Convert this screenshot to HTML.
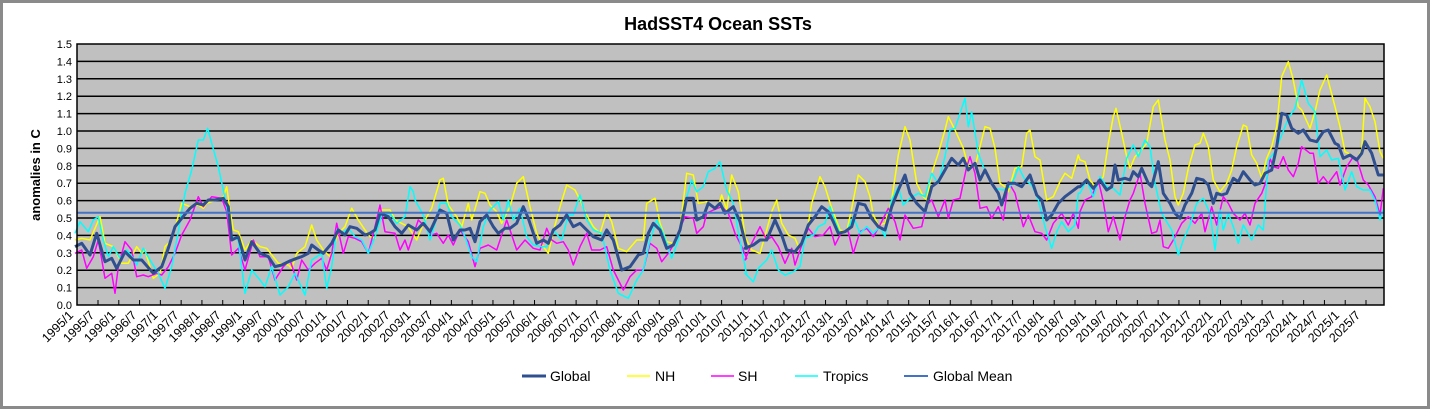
<!DOCTYPE html>
<html><head><meta charset="utf-8"><style>
html,body{margin:0;padding:0;background:#fff;}
svg{display:block;font-family:"Liberation Sans",Arial,sans-serif;}
</style></head><body>
<svg id="s" width="1437" height="414" viewBox="0 0 1437 414" xmlns="http://www.w3.org/2000/svg">
<rect x="0" y="0" width="1437" height="414" fill="#fff"/>
<rect x="1.5" y="1.5" width="1427" height="406" fill="#fff" stroke="#8a8a8a" stroke-width="3"/>
<text x="718" y="30" font-size="18" font-weight="bold" text-anchor="middle" fill="#000">HadSST4 Ocean SSTs</text>
<text transform="translate(40,175) rotate(-90)" font-size="13" font-weight="bold" text-anchor="middle">anomalies in C</text>
<rect x="77" y="44" width="1307" height="261" fill="#c0c0c0"/>
<g id="grid"></g>
<g id="series"></g>
<rect x="77" y="44" width="1307" height="261" fill="none" stroke="#000" stroke-width="1.5"/>
<g id="ylab" font-size="11" text-anchor="end"></g>
<g id="xlab" font-size="12.5"></g>
<g font-size="14">
<line x1="522" y1="376" x2="546" y2="376" stroke="#2f4f8f" stroke-width="3"/><text x="550" y="381">Global</text>
<line x1="627" y1="376" x2="650" y2="376" stroke="#ffff00" stroke-width="1.5"/><text x="655" y="381">NH</text>
<line x1="711" y1="376" x2="734" y2="376" stroke="#ff00ff" stroke-width="1.5"/><text x="738" y="381">SH</text>
<line x1="795" y1="376" x2="818" y2="376" stroke="#00ffff" stroke-width="1.5"/><text x="823" y="381">Tropics</text>
<line x1="904" y1="376" x2="928" y2="376" stroke="#4472c4" stroke-width="2"/><text x="933" y="381">Global Mean</text>
</g>
</svg>
<script>
var NS="http://www.w3.org/2000/svg";
function el(p,t,a,txt){var e=document.createElementNS(NS,t);for(var k in a)e.setAttribute(k,a[k]);if(txt!=null)e.textContent=txt;p.appendChild(e);return e;}
var g=document.getElementById("grid"),yl=document.getElementById("ylab"),xl=document.getElementById("xlab"),sr=document.getElementById("series");
for(var i=0;i<=15;i++){var y=305-i*17.4;if(i>0&&i<15)el(g,"line",{x1:77,x2:1384,y1:y,y2:y,stroke:"#000","stroke-width":1.5});
el(yl,"text",{x:72,y:y+4},(i/10).toFixed(1));}
for(var j=0;j<62;j++){var x=98+j*20.787;el(g,"line",{x1:x,x2:x,y1:300,y2:305,stroke:"#000","stroke-width":1});
var lab=(1995+Math.floor(j/2))+"/"+(j%2?7:1);var lx=74+j*21.1;
el(xl,"text",{x:0,y:0,"text-anchor":"end",transform:"translate("+lx.toFixed(1)+",316) rotate(-45)"},lab);}
var Z={
G:[[75,[[0,620],[20,610],[45,645],[65,580],[90,665],[110,655],[125,685],[150,635],[175,660],[200,660],[235,700],[260,680],[280,625],[300,560],[320,535],[345,505],[365,490],[385,495],[400,480],[420,480],[445,475],[460,500],[470,600],[490,590],[510,660],[530,605],[555,640],[580,650],[600,680],[620,675],[640,665],[665,655],[680,650],[700,640],[710,615],[730,630],[745,640],[770,610],[790,570],[810,585],[825,560],[845,565],[870,585],[885,580],[900,570],[915,520],[940,530],[960,560],[980,580],[1000,555]]],
[410,[[20,570],[40,550],[60,575],[90,510],[110,520],[130,600],[150,570],[165,570],[180,565],[195,605],[210,545],[230,525],[250,560],[265,580],[285,565],[300,565],[320,550],[340,500],[355,535],[380,610],[400,600],[415,610],[430,570],[450,555],[470,525],[490,560],[510,550],[530,570],[550,590],[575,600],[590,570],[610,600],[635,690],[660,680],[685,645],[700,640],[715,580],[730,550],[750,570],[770,625],[790,615],[810,570],[830,475],[850,475],[860,540],[880,530],[895,490],[915,505],[930,490],[945,520],[970,500],[990,545],[1010,625]]],
[745,[[0,625],[25,615],[45,600],[65,600],[90,540],[110,585],[125,630],[150,635],[170,610],[190,555],[210,530],[230,500],[250,515],[265,545],[280,580],[300,575],[320,560],[340,490],[360,495],[380,535],[400,560],[420,570],[440,500],[460,450],[480,405],[495,460],[515,490],[540,515],[560,440],[580,425],[600,390],[620,355],[640,375],[655,355],[670,390],[690,370],[705,420],[720,390],[740,430],[760,460],[770,495],[790,430],[810,430],[830,440],[855,405],[875,465],[890,480],[905,540],[920,525],[940,490],[960,470],[980,455],[1000,440]]],
[1080,[[0,440],[20,420],[40,445],[60,420],[80,450],[95,440],[105,375],[115,420],[135,415],[150,420],[160,395],[175,410],[185,385],[205,430],[215,440],[235,365],[250,460],[270,490],[285,520],[300,535],[315,495],[335,460],[350,415],[370,420],[385,435],[400,490],[410,460],[425,465],[440,460],[460,415],[475,425],[490,395],[510,420],[525,435],[540,430],[555,400],[575,390],[590,320],[605,220],[620,225],[635,265],[655,280],[670,270],[690,300],[710,305],[730,275],[745,270],[765,310],[775,315],[790,355],[810,345],[830,360],[845,340],[855,305],[875,340],[895,405],[910,405]]]],
N:[[75,[[0,600],[20,595],[45,600],[75,530],[90,610],[115,620],[140,670],[160,670],[185,620],[200,640],[210,630],[235,715],[255,700],[270,620],[290,600],[320,490],[345,500],[370,495],[385,505],[395,490],[425,480],[445,470],[455,440],[465,510],[475,570],[490,575],[510,630],[530,600],[555,620],[575,625],[610,670],[640,675],[650,685],[665,640],[690,620],[710,555],[725,600],[745,630],[765,650],[790,580],[810,560],[830,505],[850,540],[870,570],[885,590],[900,595],[915,510],[945,510],[960,540],[1000,560]]],
[410,[[20,600],[45,540],[65,505],[90,420],[100,415],[115,495],[140,530],[155,560],[175,490],[185,540],[210,455],[225,460],[240,495],[260,515],[275,550],[300,500],[320,430],[340,410],[360,500],[380,580],[400,620],[415,640],[430,575],[450,500],[470,435],[495,450],[510,480],[530,525],[550,560],[570,580],[590,515],[605,545],[625,625],[650,635],[680,600],[700,600],[710,490],[735,475],[750,550],[770,605],[790,610],[810,565],[830,400],[850,405],[865,490],[890,485],[905,500],[925,500],[935,465],[950,510],[965,405],[985,455],[1000,550]]],
[745,[[0,590],[20,630],[45,640],[65,570],[80,515],[95,480],[110,550],[130,585],[150,595],[165,630],[185,580],[200,490],[225,410],[240,440],[260,505],[285,570],[305,575],[320,505],[340,405],[360,425],[375,470],[385,525],[400,555],[420,550],[440,480],[460,345],[480,260],[495,300],[515,430],[535,470],[545,480],[560,400],[580,340],[600,270],[610,230],[630,270],[655,325],[670,380],[690,380],[720,260],[735,265],[750,325],[765,430],[780,440],[790,455],[810,385],[830,380],[845,280],[855,270],[870,350],[885,360],[905,480],[925,470],[945,425],[960,400],[980,415],[1000,345]]],
[1080,[[0,360],[15,365],[30,420],[45,440],[70,410],[85,310],[100,230],[108,205],[125,280],[140,350],[150,385],[165,350],[180,335],[200,310],[220,200],[235,180],[255,300],[270,360],[285,470],[295,495],[310,460],[325,385],[345,315],[360,310],[370,280],[385,320],[400,420],[420,455],[440,430],[455,390],[470,320],[490,255],[500,260],[515,345],[530,370],[545,415],[560,355],[575,320],[590,260],[605,110],[625,65],[640,120],[655,200],[665,210],[690,265],[705,215],[720,150],[740,105],[765,200],[780,260],[795,335],[815,345],[830,360],[845,330],[855,175],[870,200],[885,245],[900,335],[910,355]]]],
S:[[75,[[0,640],[20,630],[35,685],[55,650],[70,600],[90,715],[110,700],[120,760],[130,680],[150,605],[170,630],[185,710],[205,705],[220,710],[245,700],[260,705],[280,680],[300,640],[320,585],[345,540],[370,470],[385,500],[410,470],[440,475],[455,515],[470,645],[490,625],[510,690],[535,600],[555,650],[580,650],[600,720],[625,680],[645,660],[665,720],[680,660],[700,690],[720,670],[740,655],[755,690],[770,640],[785,550],[805,640],[820,590],[840,595],[860,605],[880,640],[900,560],[915,495],[930,575],[960,580],[975,630],[990,600],[1000,630]]],
[410,[[25,540],[45,560],[65,585],[80,580],[100,610],[115,585],[130,615],[150,570],[175,605],[195,680],[210,625],[235,615],[260,630],[290,540],[320,630],[345,600],[370,625],[390,630],[410,565],[425,600],[440,610],[460,605],[475,630],[490,675],[510,620],[530,580],[545,630],[570,630],[590,620],[610,690],[640,750],[660,710],[680,690],[700,690],[720,610],[740,625],[755,665],[775,640],[790,615],[810,565],[825,530],[850,535],[860,580],[880,560],[890,520],[910,510],[935,500],[955,520],[975,580],[995,620],[1010,655]]],
[745,[[0,660],[20,610],[45,560],[65,600],[80,590],[100,620],[120,670],[140,625],[150,675],[165,630],[190,565],[210,590],[235,585],[255,560],[270,615],[290,575],[310,575],[325,640],[345,575],[365,565],[385,590],[405,555],[430,505],[450,545],[465,600],[480,525],[505,565],[530,560],[545,495],[560,480],[580,530],[600,480],[610,535],[625,480],[645,475],[665,380],[675,350],[690,400],[705,505],[725,500],[740,535],[760,500],[775,540],[790,425],[810,460],[835,560],[850,525],[870,575],[890,580],[905,600],[925,550],[950,520],[970,555],[985,520],[1000,565]]],
[1080,[[0,515],[15,480],[35,470],[55,420],[70,485],[85,575],[100,530],[120,600],[135,530],[150,480],[160,460],[180,400],[195,490],[215,580],[230,575],[240,540],[250,620],[265,625],[280,600],[290,580],[305,550],[325,530],[345,550],[365,520],[375,575],[395,500],[410,555],[430,470],[445,490],[460,520],[480,540],[495,520],[510,555],[525,490],[545,460],[560,420],[570,355],[580,380],[595,385],[610,350],[625,390],[640,410],[655,370],[665,320],[690,340],[700,340],[715,430],[730,410],[745,430],[770,395],[780,435],[800,380],[820,350],[830,355],[850,420],[865,435],[885,470],[900,525],[910,445]]]],
T:[[75,[[0,580],[15,545],[40,575],[55,540],[70,530],[85,600],[100,650],[115,620],[135,655],[155,630],[175,655],[185,675],[205,625],[225,660],[250,700],[270,745],[290,680],[310,575],[330,460],[350,390],[370,300],[385,300],[398,265],[410,310],[430,380],[445,450],[455,500],[470,590],[490,600],[510,760],[530,690],[555,720],[570,740],[590,680],[615,765],[640,740],[660,700],[690,765],[710,660],[740,640],[755,745],[770,680],[785,570],[800,580],[820,565],[840,590],[860,600],[880,640],[900,590],[920,525],[945,520],[965,550],[990,530],[1005,440],[1015,455]]],
[410,[[15,480],[40,525],[60,600],[80,535],[90,490],[110,490],[125,530],[150,555],[165,590],[185,650],[200,665],[220,560],[240,510],[265,485],[280,540],[295,480],[310,540],[330,505],[350,590],[370,615],[395,620],[410,620],[430,570],[455,600],[475,525],[490,525],[510,465],[530,540],[550,570],[575,580],[600,690],[625,760],[655,775],[680,720],[700,690],[720,600],[740,540],[760,580],[785,655],[805,600],[825,490],[845,420],[860,455],[880,440],[895,395],[915,385],[930,365],[950,450],[970,490],[985,575],[1010,705]]],
[745,[[0,700],[25,725],[40,685],[65,660],[80,630],[100,690],[120,705],[145,695],[165,680],[180,595],[205,585],[220,560],[240,550],[255,500],[265,530],[285,580],[305,575],[325,530],[345,580],[365,560],[385,580],[405,560],[420,590],[440,480],[460,440],[475,495],[495,475],[520,460],[540,470],[560,400],[580,430],[600,350],[615,270],[630,265],[645,220],[660,175],[670,260],[680,215],[700,340],[715,380],[735,420],[750,445],[775,450],[795,440],[810,410],[820,380],[840,420],[860,435],[880,480],[900,560],[920,625],[935,575],[950,545],[970,575],[990,555],[1000,460]]],
[1080,[[0,460],[20,420],[40,470],[60,410],[80,440],[100,445],[120,465],[140,355],[160,315],[175,350],[195,300],[210,320],[225,430],[245,520],[260,545],[275,570],[295,645],[310,600],[330,555],[350,490],[370,475],[390,520],[405,630],[420,510],[430,570],[445,520],[460,560],[475,610],[490,555],[515,600],[535,555],[550,570],[565,360],[585,335],[605,285],[625,235],[645,205],[665,120],[685,190],[705,215],[720,350],[740,330],[755,360],[775,355],[795,450],[815,395],[830,440],[850,450],[870,450],[885,480],[900,540],[910,510]]]]
};
function pts(k){var out=[];Z[k].forEach(function(seg){var ox=seg[0];seg[1].forEach(function(p){out.push((ox+p[0]/3).toFixed(1)+","+(40+p[1]/3).toFixed(1));});});return out.join(" ");}
el(sr,"polyline",{points:pts("N"),fill:"none",stroke:"#ffff00","stroke-width":1.5,"stroke-linejoin":"round"});
el(sr,"polyline",{points:pts("S"),fill:"none",stroke:"#ff00ff","stroke-width":1.5,"stroke-linejoin":"round"});
el(sr,"polyline",{points:pts("T"),fill:"none",stroke:"#00ffff","stroke-width":1.5,"stroke-linejoin":"round"});
el(sr,"polyline",{points:pts("G"),fill:"none",stroke:"#2f4f8f","stroke-width":3,"stroke-linejoin":"round"});
el(sr,"line",{x1:77,x2:1384,y1:212.7,y2:212.7,stroke:"#4472c4","stroke-width":2});
</script>
</body></html>
